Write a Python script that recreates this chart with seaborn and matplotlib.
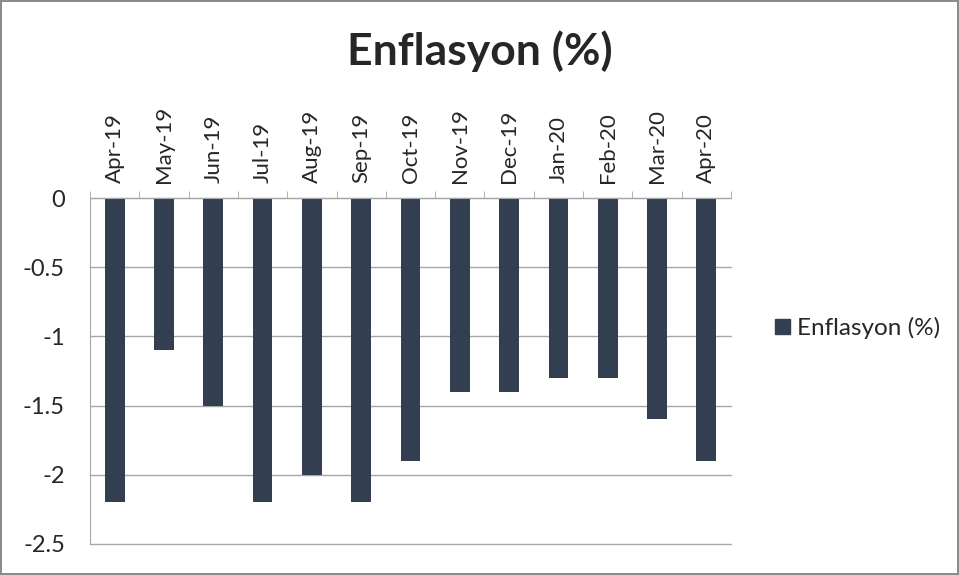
import numpy as np
import pandas as pd
import matplotlib
matplotlib.use('Agg')
import matplotlib.pyplot as plt
import seaborn as sns
from matplotlib.patches import Patch

# monthly inflation values (%)
months = ['Apr-19', 'May-19', 'Jun-19', 'Jul-19', 'Aug-19', 'Sep-19', 'Oct-19',
          'Nov-19', 'Dec-19', 'Jan-20', 'Feb-20', 'Mar-20', 'Apr-20']
values = [-2.2, -1.1, -1.5, -2.2, -2.0, -2.2, -1.9, -1.4, -1.4, -1.3, -1.3, -1.6, -1.9]
y_ticks = [0, -0.5, -1, -1.5, -2, -2.5]
y_labels = ['0', '-0.5', '-1', '-1.5', '-2', '-2.5']

df = pd.DataFrame({'Ay': months, 'Enflasyon (%)': values})

sns.set_style('white')
plt.rcParams['font.family'] = ['Lato', 'DejaVu Sans']

bar_color = '#333f50'
grid_color = '#a6a6a6'

fig = plt.figure(figsize=(9.59, 5.75), dpi=100)
fig.patch.set_edgecolor('#8c8c8c')
fig.patch.set_linewidth(1.5)
ax = fig.add_axes([90 / 959, 1 - 544 / 575, 641 / 959, 346 / 575])

sns.barplot(data=df, x='Ay', y='Enflasyon (%)', color=bar_color, width=0.4,
            saturation=1, linewidth=0, ax=ax)

ax.set_ylim(-2.5, 0)
ax.set_xlim(-0.5, len(months) - 0.5)
ax.set_yticks(y_ticks)
ax.set_yticklabels(y_labels)
ax.set_xlabel('')
ax.set_ylabel('')

# grid lines behind the bars
ax.set_axisbelow(True)
ax.yaxis.grid(True, color=grid_color, linewidth=1)
for gl in ax.yaxis.get_gridlines():
    gl.set_clip_on(False)
ax.tick_params(axis='y', length=6, color=grid_color, labelsize=17, pad=12)

# category labels on top, separators between categories
ax.xaxis.tick_top()
ax.tick_params(axis='x', which='major', length=0, labelsize=16, pad=11, labelrotation=90)
ax.set_xticks(np.arange(-0.5, len(months), 1), minor=True)
ax.tick_params(axis='x', which='minor', top=True, bottom=False, length=5, color=grid_color)

for side in ['right', 'bottom']:
    ax.spines[side].set_visible(False)
ax.spines['top'].set_color(grid_color)
ax.spines['left'].set_color(grid_color)

fig.text(0.5, 1 - 51 / 575, 'Enflasyon (%)', ha='center', va='center',
         fontsize=32, fontweight='bold')

ax.legend(handles=[Patch(color=bar_color, label='Enflasyon (%)')],
          loc='center left', bbox_to_anchor=(775 / 959, 1 - 328 / 575),
          bbox_transform=fig.transFigure, frameon=False, fontsize=17.5,
          borderpad=0, borderaxespad=0,
          handlelength=0.6, handleheight=0.6, handletextpad=0.3)

fig.savefig('out.png', dpi=100, edgecolor=fig.get_edgecolor())
